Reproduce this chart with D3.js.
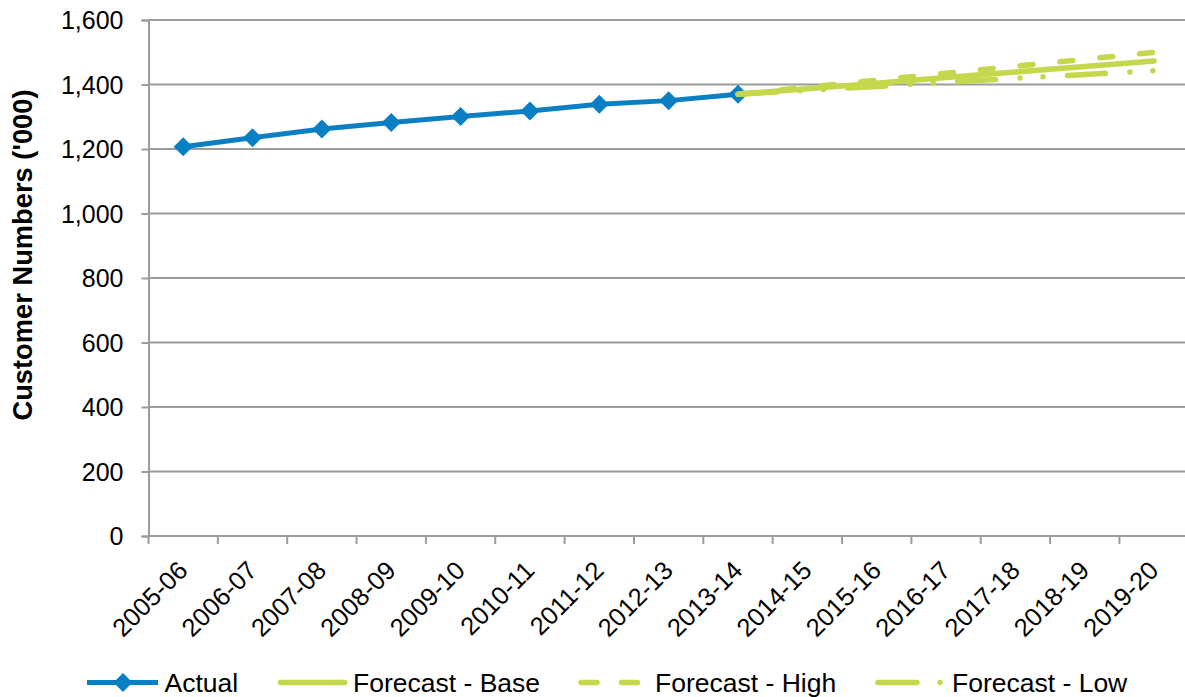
<!DOCTYPE html>
<html>
<head>
<meta charset="utf-8">
<script src="https://cdn.jsdelivr.net/npm/d3@7"></script>
<style>
  html, body { margin: 0; padding: 0; background: #fff; }
  svg { display: block; font-family: "Liberation Sans", Arial, sans-serif; }
</style>
</head>
<body>
<svg id="chart" width="1185" height="697"></svg>
<script>
// Financial years on the category axis
const categories = ["2005-06", "2006-07", "2007-08", "2008-09", "2009-10", "2010-11", "2011-12",
  "2012-13", "2013-14", "2014-15", "2015-16", "2016-17", "2017-18", "2018-19", "2019-20"];

// Customer numbers ('000)
const actual        = [1207, 1235, 1262, 1282, 1301, 1318, 1339, 1350, 1370, null, null, null, null, null, null];
const forecastBase  = [null, null, null, null, null, null, null, null, 1370, 1387, 1404, 1422, 1439, 1456, 1473];
const forecastHigh  = [null, null, null, null, null, null, null, null, 1370, 1392, 1413, 1435, 1457, 1478, 1500];
const forecastLow   = [null, null, null, null, null, null, null, null, 1370, 1382, 1394, 1407, 1419, 1431, 1443];

const yTicks = [0, 200, 400, 600, 800, 1000, 1200, 1400, 1600];
const yTitle = "Customer Numbers ('000)";
const legendLabels = ["Actual", "Forecast - Base", "Forecast - High", "Forecast - Low"];

const BLUE = "#0a7fc4";
const GREEN = "#c5d74a";
const GRID = "#9c9c9c";

const svg = d3.select("#chart");
const plot = { left: 148.5, right: 1188.8, top: 20, bottom: 536 };

const x = d3.scaleBand().domain(categories).range([plot.left, plot.right]).paddingInner(0).paddingOuter(0);
const cx = c => x(c) + x.bandwidth() / 2;
const y = d3.scaleLinear().domain([0, 1600]).range([plot.bottom, plot.top]);

// Horizontal gridlines
svg.append("g")
  .selectAll("line")
  .data(yTicks.filter(t => t > 0))
  .join("line")
  .attr("x1", plot.left).attr("x2", plot.right)
  .attr("y1", d => y(d)).attr("y2", d => y(d))
  .attr("stroke", GRID).attr("stroke-width", 2);

// Y axis
const yAxis = d3.axisLeft(y).tickValues(yTicks).tickSize(7).tickPadding(18)
  .tickFormat(d3.format(","));
const gy = svg.append("g").attr("transform", `translate(${plot.left},0)`).call(yAxis);
gy.select(".domain").attr("stroke", GRID).attr("stroke-width", 2);
gy.selectAll(".tick line").attr("stroke", GRID).attr("stroke-width", 2);
gy.selectAll(".tick text")
  .attr("font-size", 25).attr("fill", "#000")
  .attr("font-family", "Liberation Sans, Arial, sans-serif")
  .attr("dy", "0.35em");

// X axis: tick marks sit on category boundaries
const gx = svg.append("g").attr("transform", `translate(0,${plot.bottom})`);
gx.append("line")
  .attr("x1", plot.left).attr("x2", plot.right)
  .attr("y1", 0).attr("y2", 0)
  .attr("stroke", GRID).attr("stroke-width", 2);
const boundaries = categories.map(c => x(c)).concat([x(categories[categories.length - 1]) + x.bandwidth()]);
gx.selectAll("line.tk")
  .data(boundaries)
  .join("line").attr("class", "tk")
  .attr("x1", d => d).attr("x2", d => d)
  .attr("y1", 0).attr("y2", 8)
  .attr("stroke", GRID).attr("stroke-width", 2);
gx.selectAll("text")
  .data(categories)
  .join("text")
  .attr("transform", d => `translate(${cx(d) + 6},36) rotate(-45)`)
  .attr("text-anchor", "end")
  .attr("font-size", 25.5)
  .attr("fill", "#000")
  .text(d => d);

// Y axis title
svg.append("text")
  .attr("transform", `translate(32,255) rotate(-90)`)
  .attr("text-anchor", "middle")
  .attr("font-size", 27.3)
  .attr("font-weight", "bold")
  .attr("fill", "#000")
  .text(yTitle);

// Series
const lineGen = d3.line()
  .defined(d => d.v !== null)
  .x(d => cx(d.c))
  .y(d => y(d.v));
const toPts = arr => arr.map((v, i) => ({ c: categories[i], v }));

const diamond = r => `M0,${-r}L${r},0L0,${r}L${-r},0Z`;

// Actual
svg.append("path")
  .datum(toPts(actual))
  .attr("d", lineGen)
  .attr("fill", "none")
  .attr("stroke", BLUE)
  .attr("stroke-width", 5)
  .attr("stroke-linejoin", "round");
svg.append("g")
  .selectAll("path")
  .data(toPts(actual).filter(d => d.v !== null))
  .join("path")
  .attr("transform", d => `translate(${cx(d.c)},${y(d.v)})`)
  .attr("d", diamond(9.5))
  .attr("fill", BLUE);

// Forecasts
const forecastStyles = [
  { data: forecastBase, dash: null, offset: 0 },
  { data: forecastHigh, dash: "13 27", offset: -3.5 },
  { data: forecastLow, dash: "38 24.5 0 23 0 24.5", offset: 0 }
];
forecastStyles.forEach(s => {
  const p = svg.append("path")
    .datum(toPts(s.data))
    .attr("d", lineGen)
    .attr("fill", "none")
    .attr("stroke", GREEN)
    .attr("stroke-width", 5.5)
    .attr("stroke-linecap", "round")
    .attr("stroke-linejoin", "round");
  if (s.dash) p.attr("stroke-dasharray", s.dash).attr("stroke-dashoffset", s.offset);
});

// Legend
const ly = 682.5;
const legend = svg.append("g");
// Actual
legend.append("line").attr("x1", 87).attr("x2", 158).attr("y1", ly).attr("y2", ly)
  .attr("stroke", BLUE).attr("stroke-width", 5);
legend.append("path").attr("transform", `translate(123,${ly})`).attr("d", diamond(9.5)).attr("fill", BLUE);
// Base
legend.append("line").attr("x1", 280.5).attr("x2", 344.5).attr("y1", ly).attr("y2", ly)
  .attr("stroke", GREEN).attr("stroke-width", 5.5).attr("stroke-linecap", "round");
// High
legend.append("line").attr("x1", 581).attr("x2", 637.5).attr("y1", ly).attr("y2", ly)
  .attr("stroke", GREEN).attr("stroke-width", 5.5).attr("stroke-linecap", "round")
  .attr("stroke-dasharray", "16 24.5");
// Low: long dash followed by a dot
legend.append("line").attr("x1", 878).attr("x2", 917).attr("y1", ly).attr("y2", ly)
  .attr("stroke", GREEN).attr("stroke-width", 5.5).attr("stroke-linecap", "round");
legend.append("circle").attr("cx", 940).attr("cy", ly).attr("r", 2.75).attr("fill", GREEN);

const legendTextX = [164.5, 353, 655, 952];
legend.selectAll("text")
  .data(legendLabels)
  .join("text")
  .attr("x", (d, i) => legendTextX[i])
  .attr("y", 692)
  .attr("font-size", 26.5)
  .attr("fill", "#000")
  .text(d => d);
</script>
</body>
</html>
